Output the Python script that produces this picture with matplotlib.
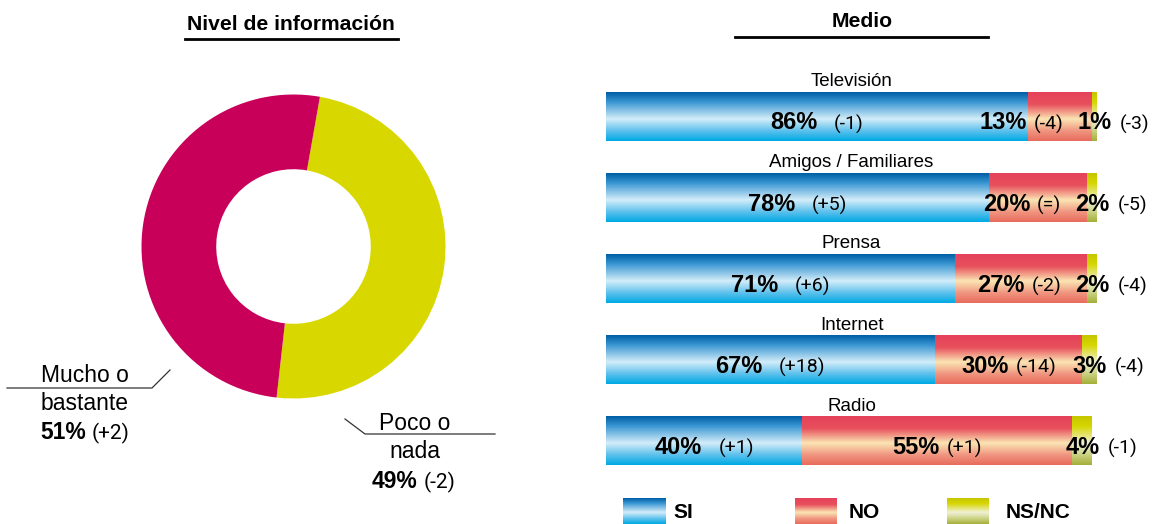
import numpy as np
import matplotlib.pyplot as plt
from matplotlib.colors import LinearSegmentedColormap
from matplotlib.offsetbox import TextArea, HPacker, AnnotationBbox

# Datos
medios = ['Televisión', 'Amigos / Familiares', 'Prensa', 'Internet', 'Radio']
series = ['SI', 'NO', 'NS/NC']
si = [86, 78, 71, 67, 40]
si_var = ['(-1)', '(+5)', '(+6)', '(+18)', '(+1)']
no = [13, 20, 27, 30, 55]
no_var = ['(-4)', '(=)', '(-2)', '(-14)', '(+1)']
nsnc = [1, 2, 2, 3, 4]
nsnc_var = ['(-3)', '(-5)', '(-4)', '(-4)', '(-1)']

nivel_labels = ['Poco o\nnada', 'Mucho o\nbastante']
nivel = [49, 51]
nivel_var = ['(-2)', '(+2)']

plt.rcParams['font.family'] = 'Liberation Sans'
W, H = 1160, 524
fig = plt.figure(figsize=(W / 100, H / 100), dpi=100)

BOLD = dict(family='Liberation Sans', weight='bold')
LIGHT = dict(family='Roboto', weight='normal')

blue = [(0, '#005fa6'), (0.2, '#3b97d3'), (0.55, '#d4edf9'), (0.8, '#5cc0ec'), (1, '#00aae4')]
red = [(0, '#e5425a'), (0.25, '#e8505c'), (0.55, '#fbe5b3'), (0.8, '#f09580'), (1, '#e96c5e')]
yellow = [(0, '#c6c600'), (0.2, '#d6d600'), (0.55, '#f1f1d6'), (0.8, '#cad282'), (1, '#a5af3a')]
stops_list = [blue, red, yellow]


def grad(stops, n=64):
    cmap = LinearSegmentedColormap.from_list('g', stops)
    return cmap(np.linspace(0, 1, n))[:, None, :]


# capa de texto en pixeles
ov = fig.add_axes([0, 0, 1, 1])
ov.axis('off')

ov.text(291, 30, 'Nivel de información', ha='center', va='baseline', fontsize=15.2, **BOLD)
ov.plot([185, 398], [38.5, 38.5], color='black', lw=2)
ov.text(862, 27, 'Medio', ha='center', va='baseline', fontsize=15.2, **BOLD)
ov.plot([735, 988], [37, 37], color='black', lw=2)

# etiquetas del donut
ov.plot([7, 152, 170], [388, 388, 370], color='#333333', lw=0.9)
ov.plot([345, 365, 495], [419, 434, 434], color='#333333', lw=0.9)
l1, l2 = nivel_labels[1].split('\n')
ov.text(85, 382, l1, ha='center', va='baseline', fontsize=16.5)
ov.text(85, 410, l2, ha='center', va='baseline', fontsize=16.5)
t = ov.text(40, 439, f'{nivel[1]}%', ha='left', va='baseline', fontsize=16.5, **BOLD)
ov.annotate(nivel_var[1], xy=(1, 439), xycoords=(t, 'data'), xytext=(4, 0),
            textcoords='offset points', va='baseline', fontsize=15, **LIGHT)
l1, l2 = nivel_labels[0].split('\n')
ov.text(415, 430, l1, ha='center', va='baseline', fontsize=16.5)
ov.text(415, 458, l2, ha='center', va='baseline', fontsize=16.5)
t = ov.text(372, 488, f'{nivel[0]}%', ha='left', va='baseline', fontsize=16.5, **BOLD)
ov.annotate(nivel_var[0], xy=(1, 488), xycoords=(t, 'data'), xytext=(4, 0),
            textcoords='offset points', va='baseline', fontsize=15, **LIGHT)

# leyenda
for name, stops, x0, x1, tx in zip(series, stops_list, [623, 795, 947], [666, 837, 989], [673, 849, 1006]):
    ov.imshow(grad(stops), extent=(x0, x1, 524, 498), origin='upper', aspect='auto',
              interpolation='bilinear')
    ov.text(tx, 518, name, ha='left', va='baseline', fontsize=15, **BOLD)
ov.set_xlim(0, W)
ov.set_ylim(H, 0)

# donut
dax = fig.add_axes([(293.5 - 160) / W, (H - 246.5 - 160) / H, 320 / W, 320 / H])
dax.pie(nivel, colors=['#d8d800', '#c8005a'], startangle=80, counterclock=False,
        radius=0.95, wedgeprops=dict(width=0.467, edgecolor='none'))
dax.set_xlim(-1, 1)
dax.set_ylim(-1, 1)

# barras
bax = fig.add_axes([606 / W, 0, 491 / W, 1])
bax.axis('off')
y = np.arange(len(medios))
bh = 0.604
ybase = 0.16
left = np.zeros(len(medios))
no_boxes = []
nsnc_texts = []
for k, (vals, var, stops) in enumerate(zip([si, no, nsnc], [si_var, no_var, nsnc_var], stops_list)):
    bars = bax.barh(y, vals, left=left, height=bh, color='none')
    img = grad(stops)
    for i, b in enumerate(bars):
        x0, y0, w, hh = b.get_x(), b.get_y(), b.get_width(), b.get_height()
        bax.imshow(img, extent=(x0, x0 + w, y0 + hh, y0), origin='upper', aspect='auto',
                   interpolation='bilinear', zorder=1)
        xc = x0 + w / 2
        if k < 2:
            box = HPacker(children=[TextArea(f'{vals[i]}%', textprops=dict(fontsize=17, **BOLD)),
                                    TextArea(var[i], textprops=dict(fontsize=14, **LIGHT))],
                          sep=12 if k == 0 else 5, align='baseline', pad=0)
            ab = AnnotationBbox(box, (xc, y[i] + 0.08), frameon=False, box_alignment=(0.5, 0.5),
                                zorder=3)
            bax.add_artist(ab)
            if k == 1:
                no_boxes.append(ab)
        else:
            t = bax.text(xc, y[i] + ybase, f'{vals[i]}%', ha='center', va='baseline',
                         fontsize=17, zorder=3, **BOLD)
            bax.annotate(var[i], xy=(1, y[i] + ybase), xycoords=(t, 'data'), xytext=(6, 0),
                         textcoords='offset points', va='baseline', fontsize=14, **LIGHT)
            nsnc_texts.append(t)
    left = left + np.array(vals)

for i, m in enumerate(medios):
    bax.text(50, y[i] - bh / 2 - 0.07, m, ha='center', va='baseline', fontsize=13.5)

bax.set_xlim(0, 100)
bax.set_ylim(5.025, -1.436)

# que las etiquetas del NO no pisen las del NS/NC
fig.canvas.draw()
renderer = fig.canvas.get_renderer()
px_per_unit = 491 / 100
for ab, t in zip(no_boxes, nsnc_texts):
    limit = t.get_window_extent(renderer).x0 - 8
    bb = ab.get_window_extent(renderer)
    if bb.x1 > limit:
        ab.xybox = (ab.xybox[0] - (bb.x1 - limit) / px_per_unit, ab.xybox[1])

fig.savefig('out.png', dpi=100)
